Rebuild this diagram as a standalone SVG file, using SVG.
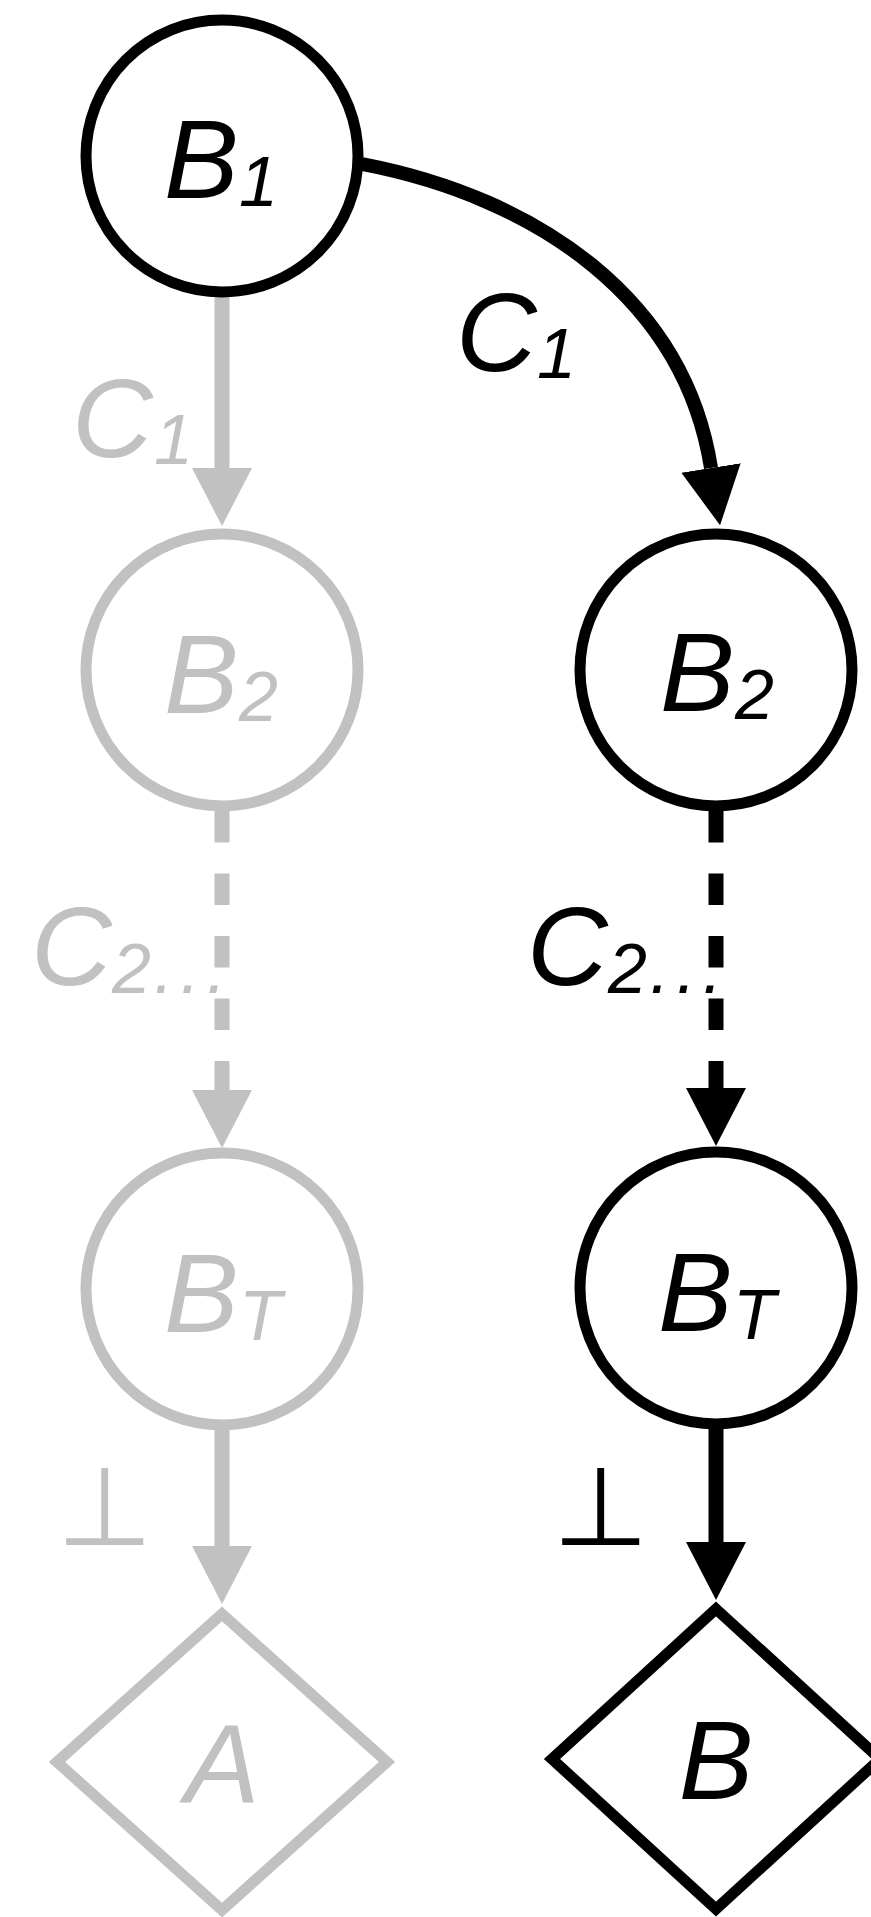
<svg xmlns="http://www.w3.org/2000/svg" width="871" height="1917" viewBox="0 0 871 1917">
<defs>
<style>
.bg{fill:#ffffff}
.nb{fill:#ffffff;stroke:#000000;stroke-width:11}
.ng{fill:#ffffff;stroke:#c1c1c1;stroke-width:11}
.db{fill:#ffffff;stroke:#000000;stroke-width:11;stroke-linejoin:miter}
.dg{fill:#ffffff;stroke:#c1c1c1;stroke-width:11;stroke-linejoin:miter}
.lb{fill:none;stroke:#000000;stroke-width:15}
.lg{fill:none;stroke:#c1c1c1;stroke-width:15}
.dash{stroke-dasharray:31.5 31}
.t{font-family:"Liberation Sans",Arial,Helvetica,sans-serif;font-style:italic;font-size:112px}
.s{font-size:70px}
.tb{fill:#000000}
.tg{fill:#c1c1c1}
.bot{font-family:"DejaVu Sans",sans-serif;font-size:110px;text-anchor:middle}
</style>
<marker id="ahb" markerUnits="userSpaceOnUse" markerWidth="58" markerHeight="60" viewBox="0 0 58 60" refX="0" refY="30" orient="auto"><path d="M0,0 L58,30 L0,60 Z" fill="#000000"/></marker>
<marker id="ahg" markerUnits="userSpaceOnUse" markerWidth="58" markerHeight="60" viewBox="0 0 58 60" refX="0" refY="30" orient="auto"><path d="M0,0 L58,30 L0,60 Z" fill="#c1c1c1"/></marker>
</defs>
<rect class="bg" x="0" y="0" width="871" height="1917"/>

<g id="connectors">
<path class="lg" d="M222,297 L222,468" marker-end="url(#ahg)"/>
<path class="lb" style="stroke-width:14" d="M362,164 C539,198 684.5,300 711,468" marker-end="url(#ahb)"/>
<path class="lg dash" d="M222,811 L222,1090" marker-end="url(#ahg)"/>
<path class="lb dash" d="M716,811 L716,1088" marker-end="url(#ahb)"/>
<path class="lg" d="M222,1430 L222,1546" marker-end="url(#ahg)"/>
<path class="lb" d="M716,1428 L716,1542" marker-end="url(#ahb)"/>
<text class="t tg" x="72" y="457">C<tspan class="s" x="154" y="464">1</tspan></text>
<text class="t tb" x="456" y="371">C<tspan class="s" x="537" y="378">1</tspan></text>
<text class="t tg" x="31" y="985">C<tspan class="s" x="112" y="993">2</tspan><tspan class="s" dx="3" y="993" letter-spacing="7">...</tspan></text>
<text class="t tb" x="527" y="985">C<tspan class="s" x="608" y="993">2</tspan><tspan class="s" dx="3" y="993" letter-spacing="7">...</tspan></text>
<text class="bot tg" x="105" y="1545">⊥</text>
<text class="bot tb" x="601" y="1545">⊥</text>
</g>

<g id="B1">
<circle class="nb" cx="222" cy="156" r="136"/>
<text class="t tb" x="164" y="198">B<tspan class="s" x="239" y="206">1</tspan></text>
</g>
<g id="B2-gray">
<circle class="ng" cx="222" cy="670" r="136"/>
<text class="t tg" x="164" y="713">B<tspan class="s" x="239" y="721">2</tspan></text>
</g>
<g id="BT-gray">
<circle class="ng" cx="222" cy="1289" r="136"/>
<text class="t tg" x="164" y="1332">B<tspan class="s" x="239" y="1340">T</tspan></text>
</g>
<g id="A">
<polygon class="dg" points="222,1614 387,1762 222,1910 57,1762"/>
<text class="t tg" x="222" y="1802" text-anchor="middle">A</text>
</g>
<g id="B2-black">
<circle class="nb" cx="716" cy="670" r="136"/>
<text class="t tb" x="660" y="711">B<tspan class="s" x="735" y="719">2</tspan></text>
</g>
<g id="BT-black">
<circle class="nb" cx="716" cy="1288" r="136"/>
<text class="t tb" x="658" y="1331">B<tspan class="s" x="733" y="1339">T</tspan></text>
</g>
<g id="B">
<polygon class="db" points="716,1609 880,1759 716,1909 552,1759"/>
<text class="t tb" x="716" y="1799" text-anchor="middle">B</text>
</g>
</svg>
